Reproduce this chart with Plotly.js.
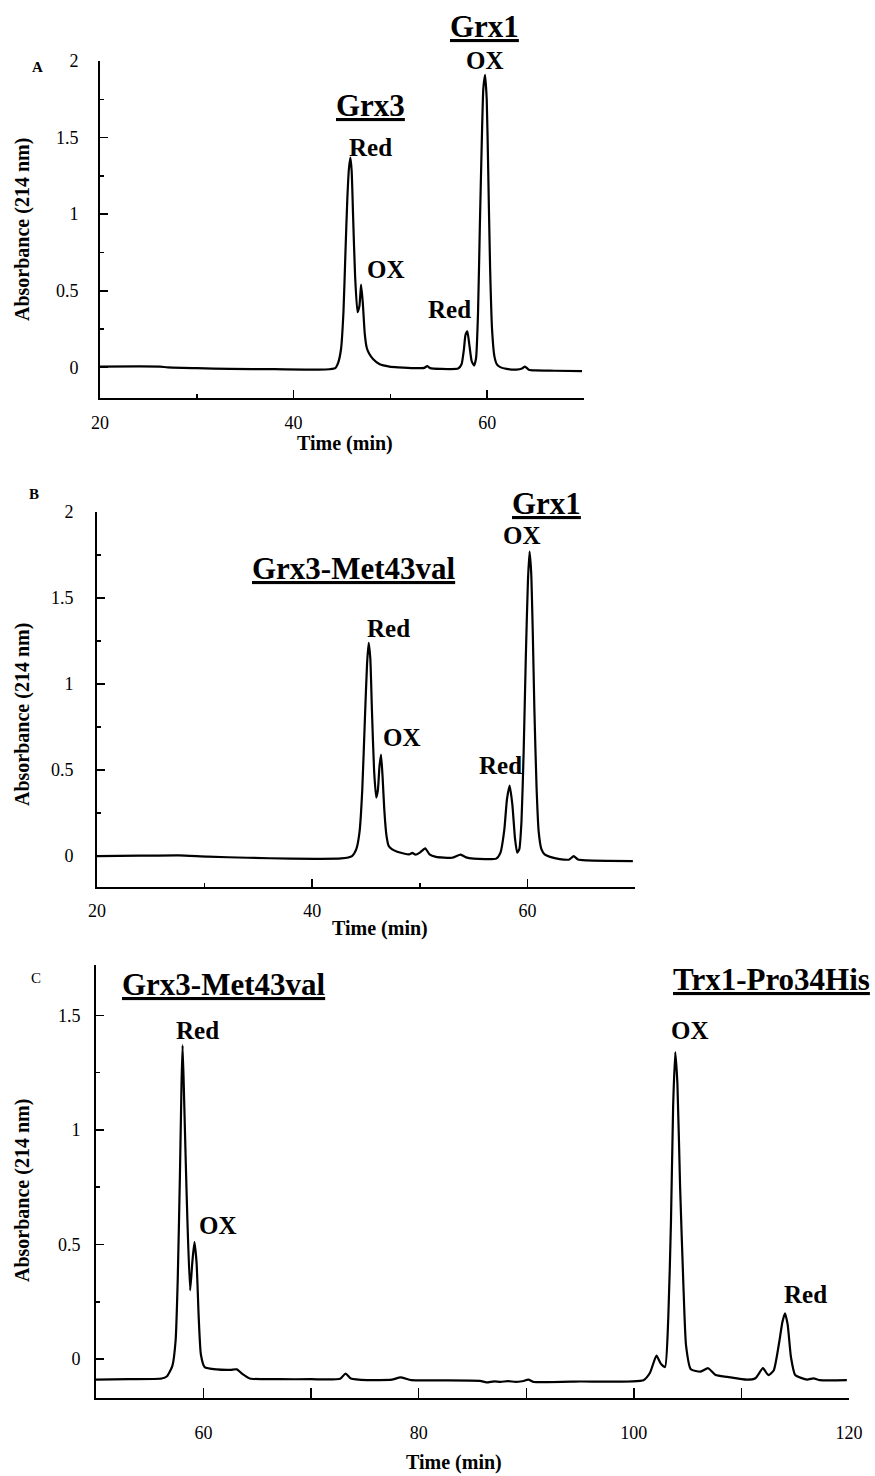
<!DOCTYPE html>
<html><head><meta charset="utf-8">
<script src="https://cdn.plot.ly/plotly-3.0.1.min.js"></script>
<style>html,body{margin:0;padding:0;background:#fff}</style>
</head><body><div id="chart" style="width:875px;height:1476px"></div>
<script>
// ---------- Panel A : Grx3 + Grx1 ----------
const timeA = [20, 24, 26.2, 27, 30, 33.4, 38, 43.3, 44.3, 44.6, 44.9, 45.15, 45.35, 45.55, 45.72, 45.87, 46.0, 46.15, 46.35, 46.6, 46.8, 46.97, 47.15, 47.35, 47.55, 47.8, 48.2, 48.9, 49.9, 50.8, 52.5, 53.5, 53.8, 54.1, 55.2, 57.0, 57.35, 57.6, 57.75, 57.95, 58.15, 58.4, 58.65, 58.85, 59.05, 59.25, 59.45, 59.6, 59.78, 59.95, 60.1, 60.3, 60.5, 60.75, 61.0, 61.4, 62.0, 63.0, 63.6, 63.9, 64.3, 65, 67, 69.8];
const absA  = [0.005, 0.006, 0.005, 0.0, -0.005, -0.01, -0.012, -0.014, -0.005, 0.03, 0.12, 0.36, 0.74, 1.10, 1.30, 1.37, 1.28, 0.98, 0.60, 0.36, 0.40, 0.54, 0.42, 0.22, 0.13, 0.09, 0.055, 0.02, 0.005, 0.0, -0.005, -0.003, 0.008, -0.005, -0.01, -0.008, 0.02, 0.12, 0.21, 0.235, 0.15, 0.04, 0.012, 0.06, 0.35, 0.95, 1.5, 1.82, 1.91, 1.75, 1.3, 0.65, 0.25, 0.07, 0.02, 0.0, -0.01, -0.015, -0.008, 0.005, -0.015, -0.02, -0.022, -0.025];

// ---------- Panel B : Grx3-Met43val + Grx1 ----------
const timeB = [20, 24, 27.6, 30.3, 34, 38, 42.7, 43.7, 44.1, 44.4, 44.65, 44.9, 45.1, 45.25, 45.4, 45.55, 45.75, 45.95, 46.1, 46.25, 46.4, 46.55, 46.7, 46.9, 47.1, 47.4, 47.9, 48.5, 49.0, 49.3, 49.6, 50.0, 50.5, 50.9, 51.5, 53.0, 53.8, 54.3, 55.0, 57.1, 57.5, 57.85, 58.1, 58.35, 58.6, 58.85, 59.05, 59.25, 59.45, 59.65, 59.85, 60.05, 60.2, 60.35, 60.5, 60.65, 60.85, 61.05, 61.3, 61.6, 62.1, 63.0, 63.9, 64.3, 64.7, 65.5, 67.5, 69.8];
const absB  = [0.0, 0.002, 0.004, -0.004, -0.01, -0.015, -0.014, 0.0, 0.04, 0.14, 0.38, 0.80, 1.12, 1.24, 1.15, 0.85, 0.50, 0.34, 0.38, 0.52, 0.59, 0.45, 0.27, 0.12, 0.06, 0.04, 0.025, 0.015, 0.01, 0.018, 0.008, 0.02, 0.045, 0.01, -0.005, -0.01, 0.008, -0.008, -0.015, -0.015, 0.02, 0.15, 0.33, 0.41, 0.30, 0.10, 0.02, 0.04, 0.20, 0.60, 1.15, 1.60, 1.77, 1.65, 1.30, 0.85, 0.40, 0.14, 0.04, 0.01, -0.005, -0.018, -0.02, 0.0, -0.02, -0.025, -0.028, -0.03];

// ---------- Panel C : Grx3-Met43val + Trx1-Pro34His ----------
const timeC = [50, 53, 56.1, 56.6, 57.1, 57.4, 57.6, 57.8, 57.95, 58.05, 58.2, 58.35, 58.5, 58.75, 58.95, 59.15, 59.35, 59.55, 59.75, 60.1, 61.2, 62.5, 63.1, 63.6, 64.3, 67, 70, 72.7, 73.2, 73.7, 75.2, 77.5, 78.3, 79.3, 82, 85.7, 86.3, 87.0, 87.6, 88.3, 89.0, 89.6, 90.2, 90.7, 95, 100.9, 101.5, 102.1, 102.5, 102.9, 103.2, 103.45, 103.65, 103.85, 104.05, 104.3, 104.6, 104.85, 105.3, 106.2, 106.9, 107.6, 108.7, 110.5, 111.3, 112.0, 112.5, 113.0, 113.5, 113.8, 114.05, 114.3, 114.6, 115.0, 116.1, 116.7, 117.3, 119.8];
const absC  = [-0.09, -0.088, -0.085, -0.075, -0.03, 0.08, 0.35, 0.80, 1.20, 1.37, 1.12, 0.85, 0.60, 0.30, 0.42, 0.51, 0.42, 0.18, 0.02, -0.035, -0.045, -0.047, -0.045, -0.065, -0.085, -0.088, -0.088, -0.086, -0.063, -0.085, -0.092, -0.09, -0.08, -0.092, -0.093, -0.095, -0.102, -0.097, -0.1, -0.096, -0.1, -0.097, -0.09, -0.1, -0.098, -0.092, -0.06, 0.015, -0.02, -0.035, 0.18, 0.60, 1.10, 1.34, 1.20, 0.75, 0.33, 0.06, -0.045, -0.055, -0.04, -0.07, -0.078, -0.09, -0.084, -0.04, -0.07, -0.05, 0.07, 0.16, 0.20, 0.15, 0.01, -0.07, -0.09, -0.084, -0.092, -0.092];

// tick labels
const yTicksAB = [0, 0.5, 1, 1.5, 2];
const yTicksC  = [0, 0.5, 1, 1.5];
const xTicksAB = [20, 40, 60];
const xTicksC  = [60, 80, 100, 120];

const W = 875, H = 1476;
const fx = p => p / W;
const fy = p => 1 - p / H;
const SERIF = 'Liberation Serif';

const lineStyle = {color: 'black', width: 2.2, shape: 'spline', smoothing: 0.5};
const traces = [
  {x: timeA, y: absA, xaxis: 'x',  yaxis: 'y',  mode: 'lines', line: lineStyle, hoverinfo: 'skip'},
  {x: timeB, y: absB, xaxis: 'x2', yaxis: 'y2', mode: 'lines', line: lineStyle, hoverinfo: 'skip'},
  {x: timeC, y: absC, xaxis: 'x3', yaxis: 'y3', mode: 'lines', line: lineStyle, hoverinfo: 'skip'}
];

function xAx(dom, range, tickvals, majLen, minLen, standoff, anchor) {
  return {domain: dom, range: range, anchor: anchor, showline: true, linecolor: 'black', linewidth: 2,
    showgrid: false, zeroline: false, ticks: 'inside', ticklen: majLen, tickwidth: 1.5, tickcolor: 'black',
    tickvals: tickvals, ticklabelstandoff: standoff,
    tickfont: {family: SERIF, size: 18, color: 'black'},
    minor: {dtick: 10, tick0: 0, ticks: 'inside', ticklen: minLen, tickwidth: 1.5, tickcolor: 'black', showgrid: false},
    fixedrange: true};
}
function yAx(dom, range, tickvals, standoff, anchor) {
  return {domain: dom, range: range, anchor: anchor, showline: true, linecolor: 'black', linewidth: 2,
    showgrid: false, zeroline: false, ticks: 'inside', ticklen: 8, tickwidth: 1.5, tickcolor: 'black',
    tickvals: tickvals, ticklabelstandoff: standoff,
    tickfont: {family: SERIF, size: 18, color: 'black'},
    minor: {dtick: 0.25, tick0: 0, ticks: 'inside', ticklen: 4, tickwidth: 1.5, tickcolor: 'black', showgrid: false},
    fixedrange: true};
}

function label(text, x, y, size, opts) {
  opts = opts || {};
  return Object.assign({text: text, xref: 'paper', yref: 'paper', x: fx(x), y: fy(y),
    xanchor: 'center', yanchor: 'middle', showarrow: false,
    font: Object.assign({family: SERIF, size: size, color: 'black', weight: opts.weight || 'bold'},
      opts.underline ? {lineposition: 'under'} : {})}, opts.extra || {});
}

const annotations = [
  // panel letters
  label('A', 37, 67, 15), label('B', 34, 494, 15), label('C', 36, 978, 15, {weight: 'normal'}),
  // axis titles
  label('Absorbance (214 nm)', 22, 230, 20, {extra: {textangle: -90}}),
  label('Absorbance (214 nm)', 22, 715, 20, {extra: {textangle: -90}}),
  label('Absorbance (214 nm)', 22, 1191, 20, {extra: {textangle: -90}}),
  label('Time (min)', 345, 443, 20),
  label('Time (min)', 380, 929, 20),
  label('Time (min)', 454, 1462, 20),
  // panel A
  label('Grx1', 484, 26, 31, {underline: true}),
  label('OX', 485, 60, 25),
  label('Grx3', 370, 105, 31, {underline: true}),
  label('Red', 370, 147, 25),
  label('OX', 386, 270, 25),
  label('Red', 449, 310, 25),
  // panel B
  label('Grx1', 546, 503, 31, {underline: true}),
  label('OX', 522, 535, 25),
  label('Grx3-Met43val', 354, 568, 31, {underline: true}),
  label('Red', 388, 628, 25),
  label('OX', 402, 737, 25),
  label('Red', 500, 765, 25),
  // panel C
  label('Grx3-Met43val', 224, 984, 31, {underline: true}),
  label('Red', 197, 1030, 25),
  label('OX', 218, 1225, 25),
  label('Trx1-Pro34His', 771, 980, 31, {underline: true}),
  label('OX', 690, 1030, 25),
  label('Red', 805, 1294, 25)
];

const layout = {
  width: W, height: H, margin: {l: 0, r: 0, t: 0, b: 0},
  paper_bgcolor: 'white', plot_bgcolor: 'white', showlegend: false,
  font: {family: SERIF, color: 'black'},
  xaxis:  xAx([fx(100), fx(584)], [20, 70], xTicksAB, 8, 4, 7, 'y'),
  yaxis:  yAx([fy(398), fy(61)], [-0.2, 2.0], yTicksAB, 16, 'x'),
  xaxis2: xAx([fx(97), fx(635)], [20, 70], xTicksAB, 8, 4, 6, 'y2'),
  yaxis2: yAx([fy(887), fy(512)], [-0.18, 2.0], yTicksAB, 18, 'x2'),
  xaxis3: xAx([fx(96), fx(849)], [50, 120], xTicksC, 4, 10, 17, 'y3'),
  yaxis3: yAx([fy(1398), fy(965)], [-0.17, 1.72], yTicksC, 10, 'x3'),
  annotations: annotations
};

Plotly.newPlot('chart', traces, layout, {staticPlot: true, displayModeBar: false});
</script></body></html>
